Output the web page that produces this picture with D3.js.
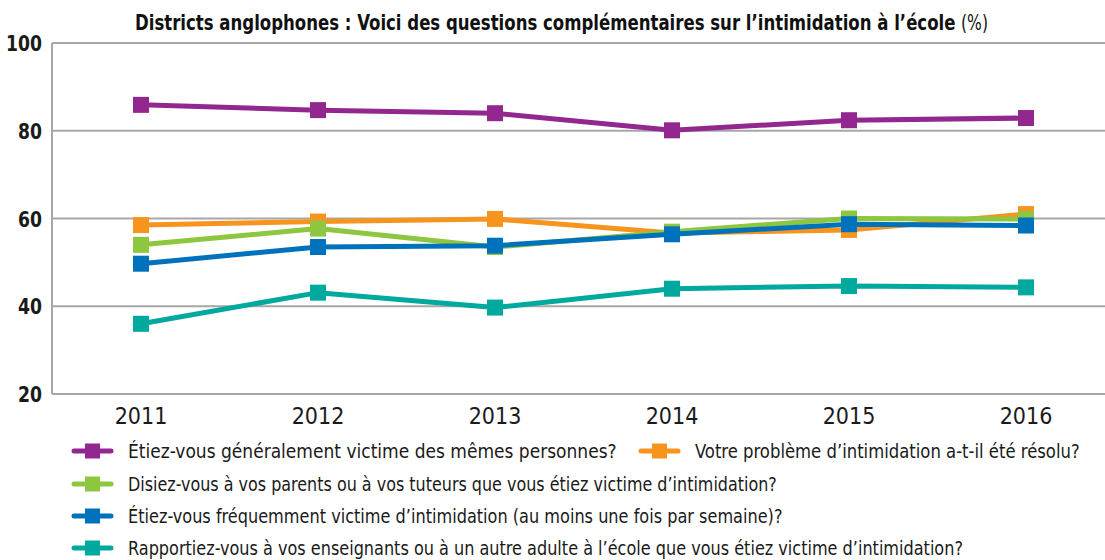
<!DOCTYPE html>
<html><head><meta charset="utf-8">
<script src="https://cdn.jsdelivr.net/npm/d3@7"></script>
<style>
body{margin:0;background:#fff;}
text{font-family:"DejaVu Sans Condensed","Liberation Sans Narrow",sans-serif;}
</style></head>
<body><svg id="c" width="1105" height="560"></svg>
<script>
const years = ["2011","2012","2013","2014","2015","2016"];
const yTicks = [20,40,60,80,100];
const seriesNames = [
 "Étiez-vous généralement victime des mêmes personnes?",
 "Votre problème d’intimidation a-t-il été résolu?",
 "Disiez-vous à vos parents ou à vos tuteurs que vous étiez victime d’intimidation?",
 "Étiez-vous fréquemment victime d’intimidation (au moins une fois par semaine)?",
 "Rapportiez-vous à vos enseignants ou à un autre adulte à l’école que vous étiez victime d’intimidation?"
];
const purple = [85.9,84.7,84.0,80.1,82.4,82.9];
const orange = [58.5,59.3,59.9,56.7,57.4,61.0];
const green  = [54.0,57.7,53.5,57.0,60.0,59.9];
const blue   = [49.7,53.5,53.8,56.4,58.7,58.4];
const teal   = [36.0,43.1,39.7,44.0,44.6,44.3];
const values = [purple, orange, green, blue, teal];
const colors = ["#92278f","#f7941d","#8dc63f","#0072bc","#00a99d"];

const svg = d3.select("#c");
const x = d3.scalePoint().domain(years).range([141,1026]);
const y = d3.scaleLinear().domain([20,100]).range([394,43]);
const left = 52, right = 1105;

// place a text at (tx,ty) horizontally squeezed to width w
function fit(parent, str, tx, ty, w, attrs, anchor){
  const t = parent.append("text").attr("x",0).attr("y",0).text(str);
  Object.entries(attrs).forEach(([k,v])=>t.attr(k,v));
  const nat = t.node().getComputedTextLength();
  const s = w/nat;
  const x0 = anchor==="end" ? tx - w : tx;
  t.attr("transform",`translate(${x0},${ty}) scale(${s},1)`);
  return t;
}

// gridlines
svg.append("g").selectAll("line").data(yTicks).join("line")
  .attr("x1",left).attr("x2",right).attr("y1",d=>y(d)).attr("y2",d=>y(d))
  .attr("stroke","#a7a7a9").attr("stroke-width",2);
svg.append("line").attr("x1",left).attr("x2",left).attr("y1",y(100)).attr("y2",y(20))
  .attr("stroke","#a7a7a9").attr("stroke-width",2);

// y labels
const yg = svg.append("g");
yTicks.forEach(d=>{
  fit(yg, String(d), 42, y(d)+8, String(d).length*12,
      {"font-size":22,"font-weight":"bold","fill":"#1a1a1a"}, "end");
});

// x labels
svg.append("g").selectAll("text").data(years).join("text")
  .attr("x",d=>x(d)).attr("y",424).attr("text-anchor","middle")
  .attr("font-size",23).attr("fill","#1a1a1a").text(d=>d);

// title
const tg = svg.append("g");
fit(tg, "Districts anglophones : Voici des questions complémentaires sur l’intimidation à l’école",
    135, 30, 821, {"font-size":21,"font-weight":"bold","fill":"#111"});
fit(tg, "(%)", 961, 30, 27, {"font-size":21,"fill":"#111"});

// lines
const line = d3.line().x((d,i)=>x(years[i])).y(d=>y(d));
values.forEach((vals,si)=>{
  const g = svg.append("g");
  g.append("path").datum(vals).attr("d",line).attr("fill","none")
    .attr("stroke",colors[si]).attr("stroke-width",5).attr("stroke-linejoin","round");
  g.selectAll("rect").data(vals).join("rect")
    .attr("x",(d,i)=>x(years[i])-8).attr("y",d=>y(d)-8)
    .attr("width",16).attr("height",16).attr("fill",colors[si]);
});

// legend
const legendPos = [[72,451],[639,451],[72,484],[72,516],[72,548]];
const legendLen = [489,385,649,655,835];
const lg = svg.append("g");
seriesNames.forEach((name,i)=>{
  const g = lg.append("g").attr("transform",`translate(${legendPos[i][0]},${legendPos[i][1]})`);
  g.append("line").attr("x1",2).attr("x2",39).attr("y1",0).attr("y2",0)
    .attr("stroke",colors[i]).attr("stroke-width",5).attr("stroke-linecap","round");
  g.append("rect").attr("x",13).attr("y",-7.5).attr("width",15).attr("height",15).attr("fill",colors[i]);
  fit(g, name, 56, 7, legendLen[i], {"font-size":20,"fill":"#1a1a1a"});
});
</script></body></html>
